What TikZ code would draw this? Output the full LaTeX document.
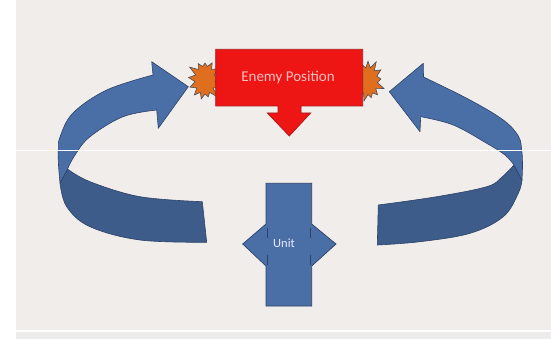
\documentclass[tikz,border=0pt]{standalone}
\usepackage{fontspec}
\setmainfont{Carlito}
\usetikzlibrary{shapes.symbols}
\definecolor{bgc}{HTML}{F0EDEA}
\definecolor{bgd}{HTML}{EDECEA}
\definecolor{blight}{HTML}{4A6FA7}
\definecolor{bdark}{HTML}{3D5C89}
\definecolor{bline}{HTML}{2C4268}
\definecolor{redf}{HTML}{EE1515}
\definecolor{redl}{HTML}{A81818}
\definecolor{orangef}{HTML}{DF6E1E}
\definecolor{burstl}{HTML}{4A4F5E}
\tikzset{
  lightpart/.style={fill=blight, draw=bline, line width=0.6pt, line join=round},
  darkpart/.style={fill=bdark, draw=bline, line width=0.6pt, line join=round},
  enemyshape/.style={fill=redf, draw=redl, line width=0.7pt},
  burst/.style={starburst, starburst points=13, starburst point height=9pt,
    fill=orangef, draw=burstl, line width=0.6pt, inner sep=0pt},
  unitshape/.style={fill=blight, draw=bline, line width=0.7pt},
}
\begin{document}
\begin{tikzpicture}[x=1pt,y=-1pt]
\useasboundingbox (0,0) rectangle (551,339);
\fill[white] (0,0) rectangle (551,339);
\fill[bgc] (16,0) rectangle (551,330);
\fill[bgd] (16,331.5) rectangle (551,339);

% left curved arrow
\filldraw[darkpart] (60,183) -- (67.5,169)
  -- plot[smooth, tension=0.6] coordinates {(67.5,169) (90,181.7) (140,196.7) (202.3,201.7)}
  -- (206.7,242.3)
  -- plot[smooth, tension=0.6] coordinates {(206.7,242.3) (140,240) (90,226.7) (66.7,206.7) (60,183)}
  -- cycle;
\filldraw[lightpart]
  plot[smooth, tension=0.6] coordinates {(60,183) (58.5,165) (58.3,150) (60,137) (73,113) (106.7,90) (153,75)}
  -- (151.7,61.7) -- (188.3,86.7) -- (158.3,128.3)
  -- plot[smooth, tension=0.6] coordinates {(156.7,110) (123,116.7) (90,136.7) (75,155) (67.5,169)}
  -- cycle;

% right curved arrow
\filldraw[darkpart] (522,180) -- (514,165)
  -- plot[smooth, tension=0.6] coordinates {(514,165) (502,177) (486.7,186.7) (436.7,196.7) (378.3,205)}
  -- (377.3,245)
  -- plot[smooth, tension=0.6] coordinates {(377.3,245) (420,241.7) (470,233.3) (503.3,216.7) (518.3,193.3) (522,180)}
  -- cycle;
\filldraw[lightpart]
  plot[smooth, tension=0.6] coordinates {(522,180) (522.5,165) (521.7,150) (518.3,136) (503.3,120) (470,100) (423.5,77)}
  -- (423.3,63.3) -- (389.3,91.7) -- (420,131.7)
  -- plot[smooth, tension=0.6] coordinates {(420.7,116.7) (453.3,125) (486.7,143.3) (505,155) (514,165)}
  -- cycle;

% starbursts
\node[burst, minimum width=38pt, minimum height=46pt, random starburst=3] (burstL) at (205,80) {};
\node[burst, minimum width=37pt, minimum height=45pt, random starburst=8] (burstR) at (368,81) {};

% enemy position
\filldraw[enemyshape] (215.7,49.3) -- (362.7,49.3) -- (362.7,106) -- (301,106) -- (301,113)
  -- (310.7,113) -- (289.3,136) -- (267.3,113) -- (278,113) -- (278,106) -- (215.7,106) -- cycle;
\node[text=red!25!white, font=\fontsize{15}{18}\selectfont] (enemy) at (288,78) {Enemy Position};

% unit
\filldraw[unitshape] (266,183.3) -- (311.7,183.3) -- (311.7,224) -- (336,244) -- (311.7,266)
  -- (311.7,306) -- (266,306) -- (266,266) -- (242.7,244) -- (266,224) -- cycle;
\draw[bline, line width=0.7pt] (267.7,228) -- (267.7,238) (267.7,255) -- (267.7,265)
  (310,228) -- (310,238) (310,255) -- (310,265);
\node[text=blue!8!white, font=\fontsize{12.5}{14}\selectfont] (unit) at (284,243) {Unit};

% white scan line
\draw[white, line width=0.8pt] (16,150.5) -- (551,150.5);
\end{tikzpicture}
\end{document}
